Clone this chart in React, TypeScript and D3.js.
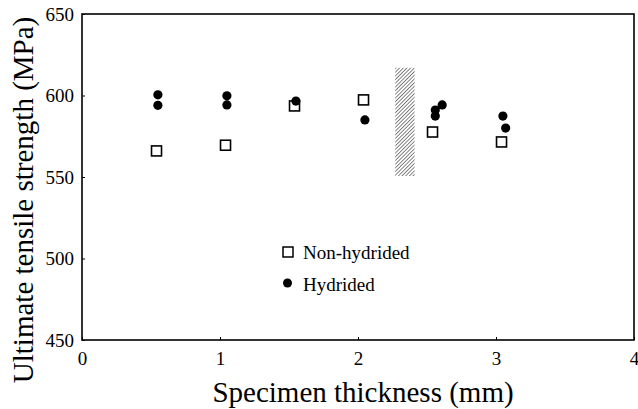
import { useEffect, useRef } from "react";
import * as d3 from "d3";

const xTicks = [0, 1, 2, 3, 4];
const yTicks = [450, 500, 550, 600, 650];

// non-hydrided specimens (open squares)
const nonHydX = [0.54, 1.04, 1.54, 2.04, 2.54, 3.04];
const nonHydY = [566, 569.5, 593.6, 597.3, 577.6, 571.5];

// hydrided specimens (filled circles)
const hydX = [0.55, 0.55, 1.05, 1.05, 1.55, 2.05, 2.56, 2.56, 2.61, 3.05, 3.07];
const hydY = [600.4, 594, 599.8, 594.2, 596.6, 585, 591.1, 587.4, 594.2, 587.4, 580];

// hatched band
const bandX = [2.27, 2.41];
const bandY = [550.6, 617];

const App = () => {
  const svgRef = useRef(null);

  useEffect(() => {
    const svg = d3.select(svgRef.current);
    svg.selectAll("*").remove();

    const width = 638;
    const height = 409;
    const margin = { top: 14, right: 4, bottom: 69, left: 82 };
    const font = "'Liberation Serif', 'Times New Roman', serif";

    const x = d3.scaleLinear().domain([0, 4]).range([margin.left, width - margin.right]);
    const y = d3.scaleLinear().domain([450, 650]).range([height - margin.bottom, margin.top]);

    const defs = svg.append("defs");
    const pat = defs
      .append("pattern")
      .attr("id", "hatch")
      .attr("patternUnits", "userSpaceOnUse")
      .attr("width", 2.6)
      .attr("height", 2.6)
      .attr("patternTransform", "rotate(45)");
    pat.append("rect").attr("width", 2.6).attr("height", 2.6).attr("fill", "#fff");
    pat.append("line").attr("x1", 0).attr("y1", 0).attr("x2", 0).attr("y2", 2.6)
      .attr("stroke", "#333").attr("stroke-width", 1.2);

    // frame
    svg.append("rect")
      .attr("x", x(0)).attr("y", y(650))
      .attr("width", x(4) - x(0)).attr("height", y(450) - y(650))
      .attr("fill", "none").attr("stroke", "#000").attr("stroke-width", 1.6);

    // ticks (inward)
    const xAxis = d3.axisBottom(x).tickValues(xTicks).tickSize(-3).tickPadding(12).tickFormat(d3.format("d"));
    svg.append("g")
      .attr("transform", `translate(0,${y(450)})`)
      .call(xAxis)
      .call((g) => g.select(".domain").remove())
      .call((g) => g.selectAll("text").attr("font-family", font).attr("font-size", 19).attr("fill", "#000"));

    const yAxis = d3.axisLeft(y).tickValues(yTicks).tickSize(-3).tickPadding(8).tickFormat(d3.format("d"));
    svg.append("g")
      .attr("transform", `translate(${x(0)},0)`)
      .call(yAxis)
      .call((g) => g.select(".domain").remove())
      .call((g) => g.selectAll("text").attr("font-family", font).attr("font-size", 19).attr("fill", "#000"));

    // hatched band
    svg.append("rect")
      .attr("x", x(bandX[0])).attr("y", y(bandY[1]))
      .attr("width", x(bandX[1]) - x(bandX[0]))
      .attr("height", y(bandY[0]) - y(bandY[1]))
      .attr("fill", "url(#hatch)");

    const sq = 10;
    svg.append("g")
      .selectAll("rect")
      .data(nonHydX.map((v, i) => [v, nonHydY[i]]))
      .join("rect")
      .attr("x", (d) => x(d[0]) - sq / 2)
      .attr("y", (d) => y(d[1]) - sq / 2)
      .attr("width", sq).attr("height", sq)
      .attr("fill", "#fff").attr("stroke", "#000").attr("stroke-width", 1.6);

    svg.append("g")
      .selectAll("circle")
      .data(hydX.map((v, i) => [v, hydY[i]]))
      .join("circle")
      .attr("cx", (d) => x(d[0]))
      .attr("cy", (d) => y(d[1]))
      .attr("r", 4.6)
      .attr("fill", "#000");

    // legend
    svg.append("rect")
      .attr("x", 283).attr("y", 247).attr("width", 10).attr("height", 10)
      .attr("fill", "#fff").attr("stroke", "#000").attr("stroke-width", 1.5);
    svg.append("text").attr("x", 303).attr("y", 259)
      .attr("font-family", font).attr("font-size", 19).text("Non-hydrided");
    svg.append("circle").attr("cx", 287.5).attr("cy", 283).attr("r", 4.5).attr("fill", "#000");
    svg.append("text").attr("x", 303).attr("y", 291)
      .attr("font-family", font).attr("font-size", 19).text("Hydrided");

    // axis titles
    svg.append("text")
      .attr("x", 363).attr("y", 402)
      .attr("text-anchor", "middle")
      .attr("font-family", font).attr("font-size", 29)
      .text("Specimen thickness (mm)");
    svg.append("text")
      .attr("transform", `translate(33,200) rotate(-90)`)
      .attr("text-anchor", "middle")
      .attr("font-family", font).attr("font-size", 29)
      .text("Ultimate tensile strength (MPa)");
  }, []);

  return (
    <svg
      ref={svgRef}
      width={638}
      height={409}
      style={{ position: "absolute", left: 0, top: 0, background: "#fff" }}
    />
  );
};

export default App;
